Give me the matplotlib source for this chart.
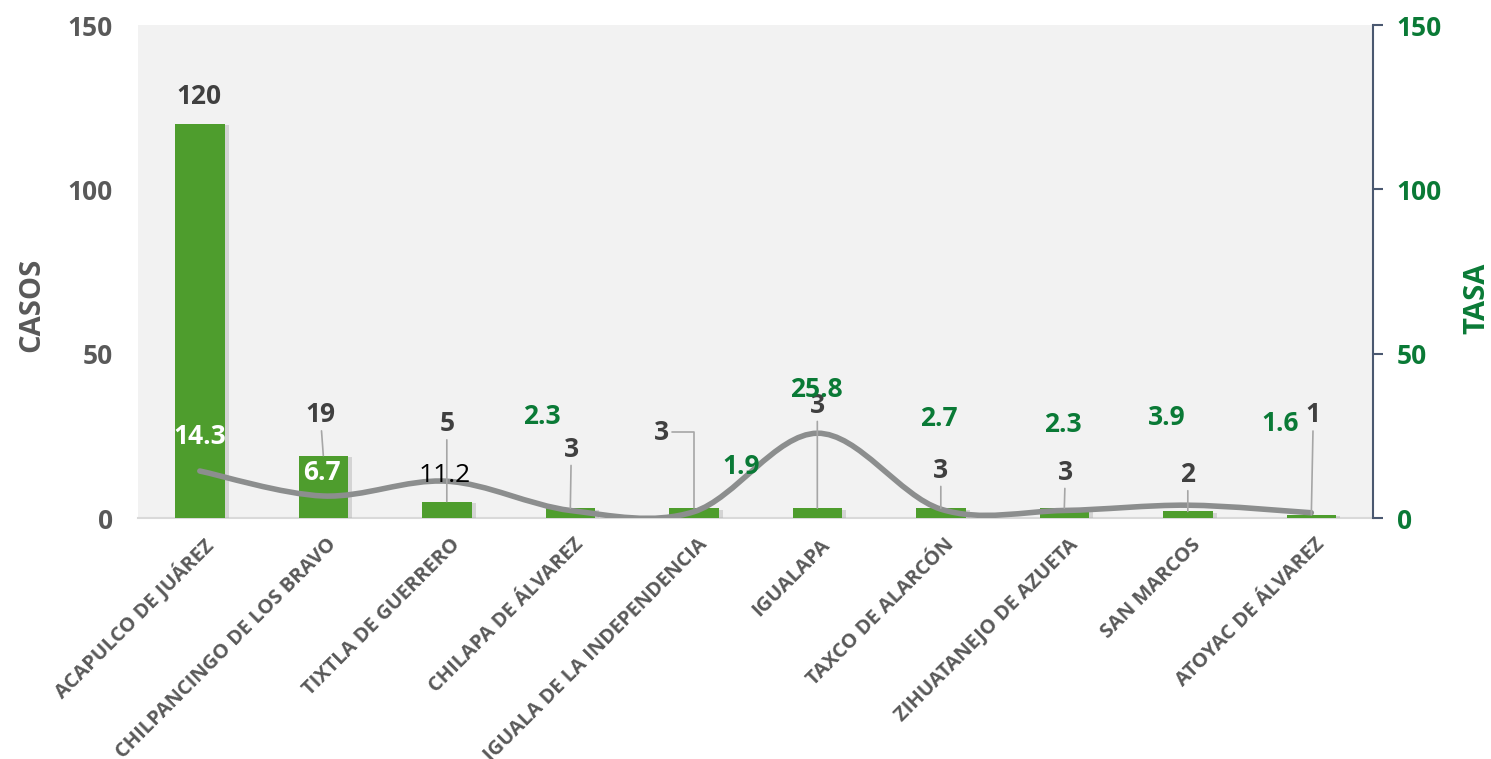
import numpy as np
import matplotlib
matplotlib.use("Agg")
import matplotlib.pyplot as plt
import matplotlib.patheffects as pe
from matplotlib.path import Path
from matplotlib.patches import PathPatch
from matplotlib import transforms

# --- data ---
municipios = ["ACAPULCO DE JUÁREZ", "CHILPANCINGO DE LOS BRAVO", "TIXTLA DE GUERRERO",
              "CHILAPA DE ÁLVAREZ", "IGUALA DE LA INDEPENDENCIA", "IGUALAPA",
              "TAXCO DE ALARCÓN", "ZIHUATANEJO DE AZUETA", "SAN MARCOS", "ATOYAC DE ÁLVAREZ"]
casos = [120, 19, 5, 3, 3, 3, 3, 3, 2, 1]
tasa = [14.3, 6.7, 11.2, 2.3, 1.9, 25.8, 2.7, 2.3, 3.9, 1.6]
yticks = [0, 50, 100, 150]

# label placement (pixel offsets from the mark)
casos_off = [(-1, 27), (-3, 41), (0, 78), (1, 59), (-32, 76), (0, 103), (0, 38), (1, 36), (0, 37), (2, 100)]
tasa_off = [(0, 35), (-1, 23), (-2, 6), (-28, 94), (47, 45), (-1, 44), (-2, 91), (-1, 86), (-21, 88), (-31, 89)]
tasa_color = ["white", "white", "black"] + ["#0A7A36"] * 7

GREEN_BAR = "#4E9D2D"
GREEN_TXT = "#0A7A36"
GRAY_TXT = "#595959"
FONT = "Open Sans"

plt.rcParams["font.family"] = [FONT, "DejaVu Sans"]

fig = plt.figure(figsize=(14.91, 7.59), dpi=100)
ax = fig.add_axes([0.0926, 0.3175, 0.8283, 0.6495])
ax2 = ax.twinx()
ax.set_facecolor("#F2F2F2")
ax2.set_zorder(ax.get_zorder() + 1)
ax2.patch.set_visible(False)

x = np.arange(len(municipios))
bars = ax.bar(x, casos, width=0.4, color=GREEN_BAR, zorder=3)
for b in bars:
    b.set_path_effects([pe.SimplePatchShadow(offset=(3, -1), shadow_rgbFace="#b0b0b0", alpha=0.45), pe.Normal()])

for a in (ax, ax2):
    a.set_xlim(-0.5, len(municipios) - 0.5)
    a.set_ylim(0, 150)
    a.set_yticks(yticks)

# smoothed line (bezier through the data points, like the spreadsheet's smoothing)
pts = np.column_stack([x, tasa]).astype(float)
ext = np.vstack([pts[0], pts, pts[-1]])
verts = [tuple(pts[0])]
codes = [Path.MOVETO]
for i in range(len(pts) - 1):
    p0, p1, p2, p3 = ext[i], ext[i + 1], ext[i + 2], ext[i + 3]
    c1 = p1 + (p2 - p0) / 6.0
    c2 = p2 - (p3 - p1) / 6.0
    verts += [tuple(c1), tuple(c2), tuple(p2)]
    codes += [Path.CURVE4] * 3
ax2.add_patch(PathPatch(Path(verts, codes), facecolor="none", edgecolor="#8C8E8E",
                        lw=4, capstyle="round", zorder=4))

# bar value labels with leader lines
for i, (v, (dx, dy)) in enumerate(zip(casos, casos_off)):
    if i == 0:
        ax2.annotate(str(v), xy=(i, v), xytext=(dx, dy), textcoords="offset pixels",
                     ha="center", va="center", fontsize=19, fontweight="bold", color="#404040", zorder=6)
        continue
    conn = "angle,angleA=0,angleB=90,rad=0" if i == 4 else "arc3"
    ax2.annotate(str(v), xy=(i, v), xytext=(dx, dy), textcoords="offset pixels",
                 ha="center", va="center", fontsize=19, fontweight="bold", color="#404040",
                 arrowprops=dict(arrowstyle="-", color="#A6A6A6", lw=1.2, shrinkA=0, shrinkB=0,
                                 connectionstyle=conn),
                 zorder=6)

# tasa labels
for i, (v, (dx, dy), c) in enumerate(zip(tasa, tasa_off, tasa_color)):
    ax2.annotate(f"{v}", xy=(i, v), xytext=(dx, dy), textcoords="offset pixels",
                 ha="center", va="center", fontsize=19,
                 fontweight="normal" if c == "black" else "bold", color=c, zorder=7)

# axes styling
for s in ["top", "left", "right"]:
    ax.spines[s].set_visible(False)
ax.spines["bottom"].set_color("#D9D9D9")
ax.spines["bottom"].set_linewidth(1.5)
for s in ["top", "left", "bottom"]:
    ax2.spines[s].set_visible(False)
ax2.spines["right"].set_color("#4A5870")
ax2.spines["right"].set_linewidth(1.5)

ax.tick_params(axis="y", length=0, pad=18, labelsize=19, labelcolor=GRAY_TXT)
for t in ax.get_yticklabels():
    t.set_fontweight("bold")
ax2.tick_params(axis="y", length=7, width=1.5, color="#4A5870", pad=10, labelsize=19, labelcolor=GREEN_TXT)
for t in ax2.get_yticklabels():
    t.set_fontweight("bold")

ax.set_xticks(x)
ax.set_xticklabels(municipios, rotation=45, ha="right", va="top", rotation_mode="anchor",
                   fontsize=14.5, fontweight="bold", color=GRAY_TXT)
ax.tick_params(axis="x", length=0, pad=12)
shift = transforms.ScaledTranslation(3 / 100, 0, fig.dpi_scale_trans)
for t in ax.get_xticklabels():
    t.set_transform(t.get_transform() + shift)

ax.set_ylabel("CASOS", fontsize=21, fontweight="bold", color=GRAY_TXT)
ax.yaxis.set_label_coords(-0.074, 0.432)
ax2.set_ylabel("TASA", fontsize=21, fontweight="bold", color=GREEN_TXT, rotation=90)
ax2.yaxis.set_label_coords(1.072, 0.446)

fig.savefig("out.png", dpi=100, facecolor="white")
